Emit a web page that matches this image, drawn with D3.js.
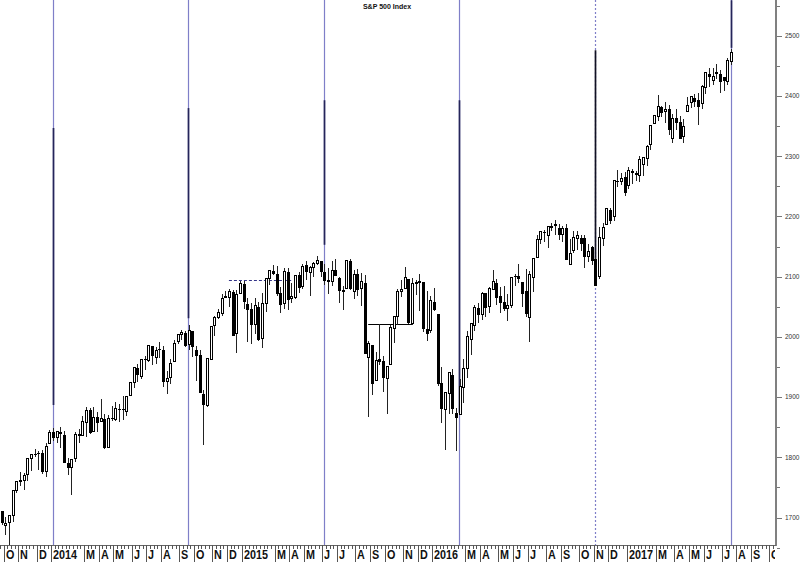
<!DOCTYPE html>
<html><head><meta charset="utf-8">
<script src="https://cdn.jsdelivr.net/npm/d3@7"></script>
<style>body{margin:0;background:#fff}svg{display:block}</style>
</head><body><svg id="c" width="800" height="562"></svg>
<script>
// ---- data: weekly S&P 500 candles, first week ends 2013-09-27 ----
const firstWeek = "2013-09-27";
const opens = [
1711.4,1687.3,1691.9,1703.0,1745.2,1759.4,1762.0,1771.0,1798.8,1806.3,1806.6,1806.6,1776.0,1822.9,
1841.5,1832.3,1842.3,1837.9,1791.0,1782.7,1798.0,1838.8,1836.8,1857.7,1878.3,1842.8,1867.7,1859.2,1863.9,1816.1,1865.8,1863.2,1879.5,1879.5,1876.7,1902.0,1923.9,1949.0,1934.8,1962.9,1960.8,1984.2,1965.1,1979.8,1979.0,1926.6,1933.4,1958.4,1991.7,2004.1,2007.2,1986.8,2009.1,1979.0,1970.0,1905.7,1886.8,1963.0,2018.2,2032.0,2039.7,2065.1,2065.8,2074.8,2005.0,2071.9,
2087.6,2054.4,2046.1,2020.8,2050.4,1996.7,2055.5,2096.5,2109.8,2105.2,2072.3,2055.4,2108.0,2064.1,2064.9,2102.0,2084.1,2119.3,2107.7,2115.6,2122.7,2125.3,2108.6,2092.3,2091.3,2110.6,2098.6,2075.4,2080.0,2126.8,2075.6,2104.5,2081.0,2089.7,1965.2,1986.7,1927.3,1963.1,1960.8,1930.9,1954.3,2013.7,2033.5,2075.1,2080.8,2096.6,2022.1,2089.4,2091.0,2090.4,2013.4,2010.3,2057.8,
2038.2,1923.3,1878.9,1906.3,1936.9,1873.3,1871.4,1916.7,1947.1,1996.1,2019.3,2047.9,2037.9,2073.2,2050.2,2078.8,2089.4,2067.2,2058.8,2046.5,2052.7,2101.0,2100.8,2091.8,2075.6,2031.5,2099.3,2131.7,2162.0,2173.7,2168.8,2183.1,2187.0,2181.6,2170.2,2181.6,2120.9,2144.0,2163.3,2164.3,2164.7,2133.0,2148.5,2129.8,2100.6,2163.2,2186.4,2210.2,2200.2,2258.8,2257.5,2266.2,
2251.6,2273.6,2269.1,2267.8,2286.0,2295.9,2319.2,2354.9,2366.0,2381.4,2374.4,2378.2,2329.1,2363.0,2357.2,2332.6,2374.2,2388.5,2397.0,2393.0,2387.2,2414.5,2436.3,2425.0,2437.0,2436.0,2431.0,2424.5,2458.0];
const highs = [
1711.4,1701.0,1703.4,1745.3,1759.8,1775.2,1774.5,1798.2,1804.8,1813.6,1810.0,1811.5,1823.8,1844.9,
1849.4,1843.2,1850.8,1844.0,1798.8,1798.0,1841.7,1847.5,1867.9,1883.6,1882.4,1884.0,1875.9,1897.3,1872.5,1869.6,1884.9,1891.3,1889.1,1902.2,1901.3,1924.0,1949.4,1955.6,1963.9,1968.2,1985.6,1984.2,1983.9,1991.4,1984.9,1942.9,1964.0,1994.8,2005.0,2011.2,2009.1,2019.3,2009.1,1985.2,1977.8,1912.3,1965.3,2018.2,2034.3,2046.2,2071.5,2075.8,2079.5,2077.9,2077.3,2093.6,
2093.0,2064.4,2056.9,2064.6,2057.6,2072.4,2097.0,2110.6,2119.6,2117.5,2083.5,2113.9,2114.9,2089.8,2102.6,2107.7,2120.9,2125.9,2117.7,2123.9,2134.7,2126.2,2121.9,2115.0,2126.7,2129.9,2100.0,2085.0,2128.0,2128.8,2110.6,2112.7,2105.4,2102.9,1993.5,1986.7,1975.0,2020.9,1968.0,1951.4,2020.1,2033.5,2079.7,2094.3,2116.5,2096.6,2097.1,2094.1,2104.3,2090.4,2076.7,2067.7,2081.6,
2038.2,1950.3,1908.9,1940.2,1947.2,1881.6,1930.7,1963.0,2009.1,2022.4,2052.4,2056.6,2074.0,2073.2,2083.4,2111.1,2096.8,2083.4,2084.9,2071.9,2099.1,2105.3,2120.6,2091.8,2113.3,2108.7,2131.7,2169.1,2175.6,2177.1,2182.9,2188.5,2193.8,2187.9,2184.9,2187.9,2163.3,2175.3,2175.3,2169.6,2169.6,2153.5,2151.4,2133.0,2182.3,2189.9,2213.4,2214.1,2259.5,2277.5,2272.6,2273.8,
2282.1,2279.3,2276.1,2301.0,2298.3,2319.2,2351.3,2367.8,2401.0,2383.9,2390.0,2385.7,2370.4,2378.4,2366.4,2361.4,2398.2,2399.3,2403.9,2405.8,2418.7,2440.2,2446.2,2446.2,2453.8,2443.0,2432.0,2463.5,2477.6];
const lows = [
1687.1,1670.4,1646.5,1692.1,1740.5,1752.7,1746.2,1761.6,1777.2,1800.0,1779.1,1772.3,1768.0,1822.9,
1827.7,1823.7,1815.5,1790.3,1770.5,1737.9,1791.8,1824.6,1836.8,1834.4,1839.6,1842.8,1842.5,1859.2,1814.4,1815.8,1859.7,1859.8,1859.0,1862.4,1868.1,1902.0,1916.0,1925.8,1930.9,1944.7,1958.2,1952.9,1955.6,1965.0,1916.4,1904.8,1921.4,1958.4,1988.6,1995.4,1984.0,1978.5,1966.0,1926.0,1906.1,1820.7,1883.8,1961.1,2001.0,2030.2,2034.5,2064.8,2049.6,2002.3,1972.6,2071.9,
2046.0,1992.4,1988.1,2004.5,1993.3,1980.9,2041.9,2085.4,2103.0,2067.3,2039.7,2046.8,2045.5,2056.7,2062.5,2072.4,2079.3,2094.8,2067.9,2099.2,2119.6,2099.2,2085.7,2072.1,2084.0,2101.1,2056.6,2044.0,2079.2,2077.1,2063.5,2067.9,2052.1,1970.9,1867.0,1903.1,1927.0,1953.0,1908.8,1871.9,1954.3,1990.7,2019.4,2066.7,2080.8,2022.0,2019.4,2070.3,2042.4,2008.8,1993.3,2005.9,2043.6,
1918.5,1857.8,1812.3,1872.7,1872.7,1810.1,1871.4,1891.0,1931.8,1969.3,2010.0,2022.5,2028.0,2033.8,2039.7,2078.8,2052.3,2039.5,2043.1,2025.9,2047.3,2085.1,2089.9,2050.4,2033.0,1991.7,2074.0,2131.7,2155.0,2157.9,2147.6,2175.8,2168.5,2160.4,2157.0,2127.8,2119.1,2139.2,2145.0,2142.6,2114.7,2124.4,2119.1,2083.8,2097.0,2151.0,2186.4,2187.4,2193.0,2248.4,2253.0,2233.6,
2245.1,2254.3,2258.8,2257.0,2267.2,2283.0,2311.0,2352.9,2358.0,2364.5,2354.5,2335.7,2322.3,2344.0,2329.0,2322.0,2374.2,2379.8,2381.0,2352.7,2379.0,2403.0,2415.7,2418.0,2428.0,2405.7,2407.7,2418.0,2452.0];
const closes = [
1691.8,1690.5,1703.2,1744.5,1759.8,1761.6,1770.6,1798.2,1804.8,1805.8,1805.1,1775.3,1818.3,1841.4,
1831.4,1842.4,1838.7,1790.3,1782.6,1797.0,1838.6,1836.3,1859.5,1878.0,1841.1,1866.5,1857.6,1865.1,1815.7,1864.9,1863.4,1881.1,1878.5,1877.9,1900.5,1923.6,1949.4,1936.2,1962.9,1961.0,1985.4,1967.6,1978.2,1978.3,1925.2,1931.6,1955.1,1988.4,2003.4,2007.7,1985.5,2010.4,1982.9,1967.9,1906.1,1886.8,1964.6,2018.1,2031.9,2039.8,2063.5,2067.6,2075.4,2002.3,2070.7,2088.8,
2058.2,2044.8,2019.4,2051.8,1995.0,2055.5,2097.0,2110.3,2104.5,2071.3,2053.4,2108.1,2061.0,2067.0,2102.1,2081.2,2117.7,2108.3,2116.1,2122.7,2126.1,2107.4,2092.8,2094.1,2110.0,2101.5,2076.8,2076.6,2126.6,2079.7,2103.8,2077.6,2091.5,1970.9,1988.9,1921.2,1961.1,1958.0,1931.3,1951.4,2014.9,2033.1,2075.2,2079.4,2099.2,2023.0,2089.2,2090.1,2091.7,2012.4,2005.6,2061.0,2043.9,
1922.0,1880.3,1906.9,1940.2,1880.1,1864.8,1917.8,1948.1,2000.0,2022.2,2049.6,2035.9,2072.8,2047.6,2080.7,2091.6,2065.3,2057.1,2046.6,2052.3,2099.1,2099.1,2096.1,2071.2,2037.4,2103.0,2129.9,2161.7,2175.0,2173.6,2182.9,2184.1,2183.9,2169.0,2180.0,2127.8,2139.2,2164.7,2168.3,2153.7,2133.0,2141.2,2126.4,2085.2,2164.5,2181.9,2213.4,2192.0,2259.5,2258.1,2263.8,2238.8,
2277.0,2274.6,2271.3,2294.7,2297.4,2316.1,2351.2,2367.3,2383.1,2372.6,2378.3,2344.0,2362.7,2355.5,2329.0,2348.7,2384.2,2399.3,2390.9,2381.7,2415.8,2439.1,2431.8,2433.2,2438.3,2423.4,2425.2,2459.3,2472.5];

// month labels on the time axis (Feb is hidden under the year label)
const monthLabels = ["O","N","D","2014","","M","A","M","J","J","A","S","O","N","D","2015","","M","A","M","J","J","A","S","O","N","D","2016","","M","A","M","J","J","A","S","O","N","D","2017","","M","A","M","J","J","A","S","O"];
const firstMonth = "2013-10-01";
const priceTicks = [1700,1800,1900,2000,2100,2200,2300,2400,2500];
const title = "S&P 500 Index";

// cycle lines
const cycleDates = ["2014-01-03","2014-09-19","2015-06-05","2016-02-19","2016-11-04","2017-07-21"];
const cycleDashed = [false,false,false,false,true,false];
const cycleTop = [2347,2380,2393,2393,2476,2559];
const cycleBottom = [1887,2031,2153,1874,2086,2480];
// horizontal markers
const hDashed = {from:"2014-12-05", to:"2015-04-03", level:2094};
const hSolid = {from:"2015-08-28", to:"2015-11-20", level:2021};

// ---- drawing ----
const parse = d3.timeParse("%Y-%m-%d");
const start = parse(firstWeek);
const weeks = closes.map((c,i)=>d3.timeFriday.offset(start,i));
const bars = weeks.map((d,i)=>({d,o:opens[i],h:highs[i],l:lows[i],c:closes[i]}));

const W=800,H=562, axX=776, axY=545;
const svg=d3.select("#c");
const x=d3.scaleTime().domain([parse("2014-01-03"),parse("2017-07-21")]).range([53,731]);
const y=d3.scaleLinear().domain([1700,2500]).range([517.6,35.8]);
const halfWeek = (x(parse("2014-01-10"))-x(parse("2014-01-03")))/2;

svg.append("defs").append("clipPath").attr("id","clip")
  .append("rect").attr("x",0).attr("y",0).attr("width",axX).attr("height",axY);
const plot=svg.append("g").attr("clip-path","url(#clip)");

// cycle lines
cycleDates.forEach((ds,i)=>{
  const cx=Math.floor(x(parse(ds)))+0.5;
  plot.append("line").attr("x1",cx).attr("x2",cx).attr("y1",0).attr("y2",axY)
    .attr("stroke","#7f7fc8").attr("stroke-width",1.2)
    .attr("stroke-dasharray",cycleDashed[i]?"2,2":null);
  plot.append("line").attr("x1",cx).attr("x2",cx).attr("y1",y(cycleTop[i])).attr("y2",y(cycleBottom[i]))
    .attr("stroke",cycleDashed[i]?"#111122":"#25255a").attr("stroke-width",1.7);
});

// horizontal markers
plot.append("line").attr("x1",x(parse(hDashed.from))).attr("x2",x(parse(hDashed.to)))
  .attr("y1",Math.round(y(hDashed.level))+0.5).attr("y2",Math.round(y(hDashed.level))+0.5)
  .attr("stroke","#333388").attr("stroke-width",1).attr("stroke-dasharray","3,2");
plot.append("line").attr("x1",x(parse(hSolid.from))).attr("x2",x(parse(hSolid.to)))
  .attr("y1",Math.round(y(hSolid.level))+0.5).attr("y2",Math.round(y(hSolid.level))+0.5)
  .attr("stroke","#000").attr("stroke-width",1);

// candles
const cg=plot.append("g").attr("shape-rendering","crispEdges");
cg.selectAll("line.w").data(bars).join("line").attr("class","w")
  .attr("x1",d=>Math.round(x(d.d))+0.5).attr("x2",d=>Math.round(x(d.d))+0.5)
  .attr("y1",d=>y(d.h)).attr("y2",d=>y(d.l)).attr("stroke","#222").attr("stroke-width",1);
cg.selectAll("rect.b").data(bars).join("rect").attr("class","b")
  .attr("x",d=>d.c>=d.o?Math.round(x(d.d))-0.5:Math.round(x(d.d))-1)
  .attr("width",d=>d.c>=d.o?2:3)
  .attr("y",d=>y(Math.max(d.o,d.c)))
  .attr("height",d=>Math.max(1,Math.abs(y(d.o)-y(d.c))))
  .attr("fill",d=>d.c>=d.o?"#fff":"#000")
  .attr("stroke",d=>d.c>=d.o?"#000":"none").attr("stroke-width",1);

// right axis
svg.append("line").attr("x1",axX).attr("x2",axX).attr("y1",0).attr("y2",axY+1)
  .attr("stroke","#808080").attr("stroke-width",2);
const yAxis=svg.append("g");
d3.range(1650,2560,50).forEach(v=>{
  const yy=Math.round(y(v))+0.5;
  yAxis.append("line").attr("x1",777).attr("x2",v%100===0?782:780).attr("y1",yy).attr("y2",yy)
    .attr("stroke","#777").attr("stroke-width",1);
});
yAxis.selectAll("text").data(priceTicks).join("text")
  .attr("x",785).attr("y",d=>y(d)).attr("dy","0.35em")
  .attr("font-family","Liberation Sans, Arial, sans-serif").attr("font-size",6.5)
  .attr("fill","#333").text(d=>d);

// bottom axis
svg.append("line").attr("x1",0).attr("x2",axX).attr("y1",axY+0.5).attr("y2",axY+0.5)
  .attr("stroke","#666").attr("stroke-width",1);
const xa=svg.append("g").attr("shape-rendering","crispEdges");
const allWeeks=d3.timeFriday.range(d3.timeFriday.offset(start,-1),parse("2017-10-20"));
allWeeks.forEach(w=>{
  const xx=Math.round(x(w)-halfWeek)+0.5;
  if(xx<axX) xa.append("line").attr("x1",xx).attr("x2",xx).attr("y1",axY).attr("y2",axY+4).attr("stroke","#555");
});
const months=d3.timeMonth.range(parse(firstMonth),parse("2017-10-02"));
svg.select("defs").append("clipPath").attr("id","clipx").append("rect")
  .attr("x",0).attr("y",axY).attr("width",axX-1).attr("height",H-axY);
const labG=svg.append("g").attr("clip-path","url(#clipx)");
months.forEach((m,i)=>{
  const lab=monthLabels[i];
  if(!lab) return;
  let d=new Date(m); const wd=d.getDay();
  if(wd===6) d=d3.timeDay.offset(d,2); else if(wd===0) d=d3.timeDay.offset(d,1);
  const fri=d3.timeFriday.ceil(d);
  const xx=Math.round(x(fri)-halfWeek)+0.5;
  labG.append("line").attr("x1",xx).attr("x2",xx).attr("y1",axY).attr("y2",H)
    .attr("stroke","#555").attr("stroke-width",1).attr("shape-rendering","crispEdges");
  labG.append("text").attr("transform",`translate(${xx+1.5},${H-3}) scale(0.8,1)`)
    .attr("font-family","Liberation Sans, Arial, sans-serif").attr("font-weight","bold")
    .attr("font-size",13.5).attr("fill","#111").text(lab);
});

// title
svg.append("text").attr("x",387).attr("y",9).attr("text-anchor","middle")
  .attr("font-family","Liberation Sans, Arial, sans-serif").attr("font-size",7).attr("font-weight","bold")
  .attr("fill","#111").text(title);
</script></body></html>
